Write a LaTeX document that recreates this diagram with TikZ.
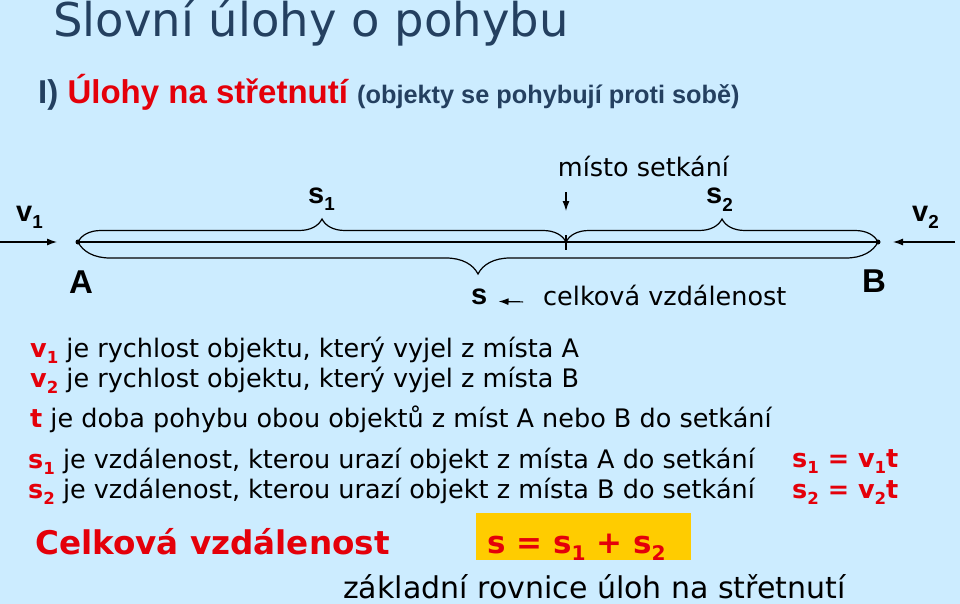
\documentclass[tikz,border=0pt]{standalone}
\usepackage{fontspec}
\setmainfont{DejaVu Sans}
\newfontfamily\arialfont{Liberation Sans}
\usetikzlibrary{arrows.meta,decorations.pathreplacing}

\definecolor{bgblue}{RGB}{204,236,255}
\definecolor{titleblue}{RGB}{36,64,96}
\definecolor{slidered}{RGB}{228,0,10}
\definecolor{boxyellow}{RGB}{255,204,0}

\newcommand{\fsz}[1]{\fontsize{#1pt}{#1pt}\selectfont}
\newcommand{\idx}[1]{\raisebox{-.25em}{\scalebox{.65}{#1}}}
\newcommand{\hl}[1]{\textcolor{slidered}{\bfseries #1}}

\begin{document}
\begin{tikzpicture}[x=1pt,y=-1pt,
    txt/.style={inner sep=0pt, anchor=base west, font=\fsz{25.5}},
    lab/.style={inner sep=0pt, anchor=base west, font=\arialfont\bfseries\fsz{29}},
    arr/.style={-{Latex[length=10pt,width=7pt]}, line width=1.2pt},
    brc/.style={decorate, decoration={brace, amplitude=#1}, line width=1.2pt}]
    \path[use as bounding box, fill=bgblue] (0,0) rectangle (960,604);

    \node[txt, font=\fsz{46.5}, text=titleblue] (title) at (53,37) {Slovní úlohy o pohybu};
    \node[txt, font=\arialfont\bfseries\fsz{33}, text=titleblue] (part) at (38,104)
        {I) \textcolor{slidered}{Úlohy na střetnutí} {\fsz{25.3}(objekty se pohybují proti sobě)}};

    % usecka A--B
    \coordinate (A) at (78,242);
    \coordinate (M) at (566,242);
    \coordinate (B) at (878,242);
    \coordinate (inL) at (0,242);
    \coordinate (inR) at (955,242);
    \coordinate (meetArr) at (566,192);

    \node[txt, anchor=base] (meet) at (643.5,176) {místo setkání};
    \node[lab] (s1) at (308,203) {s\idx{1}};
    \node[lab] (s2) at (706,204) {s\idx{2}};
    \node[lab] (v1) at (16,221) {v\idx{1}};
    \node[lab] (v2) at (912,221) {v\idx{2}};

    \draw[line width=1.8pt] (A) -- (B);
    \fill (A) circle (2.5pt);
    \fill (B) circle (2.5pt);
    \draw[brc=23pt] (A) -- (M);
    \draw[brc=23pt] (M) -- (B);
    \draw[brc=32pt] (B) -- (A);
    \draw[line width=1.2pt] ([yshift=7pt]M) -- ([yshift=-8pt]M);

    \draw[arr, shorten >=21pt] (inL) -- (A);
    \draw[arr, shorten >=15pt] (inR) -- (B);
    \draw[arr, shorten >=31pt] (meetArr) -- (M);

    \node[lab, font=\arialfont\bfseries\fsz{33}, anchor=base] (ptA) at (81,293) {A};
    \node[lab, font=\arialfont\bfseries\fsz{33}, anchor=base] (ptB) at (874,292) {B};
    \node[lab] (sTot) at (471,304) {s};
    \node[txt] (celk) at (543,305) {celková vzdálenost};
    \draw[arr, shorten <=20pt, shorten >=11pt] (celk.mid west) -- (sTot.mid east);

    % vysvetlivky
    \node[txt] (defV1) at (30,357) {\hl{v\idx{1}} je rychlost objektu, který vyjel z místa A};
    \node[txt] (defV2) at (30,387) {\hl{v\idx{2}} je rychlost objektu, který vyjel z místa B};
    \node[txt] (defT) at (30,427) {\hl{t} je doba pohybu obou objektů z míst A nebo B do setkání};
    \node[txt] (defS1) at (28,468) {\hl{s\idx{1}} je vzdálenost, kterou urazí objekt z místa A do setkání};
    \node[txt] (defS2) at (28,498) {\hl{s\idx{2}} je vzdálenost, kterou urazí objekt z místa B do setkání};
    \node[txt] (eqS1) at (792,467) {\hl{s\idx{1} = v\idx{1}t}};
    \node[txt] (eqS2) at (792,498) {\hl{s\idx{2} = v\idx{2}t}};

    \node[fill=boxyellow, inner sep=0pt, minimum width=215pt, minimum height=47pt,
        anchor=north west] (eqBox) at (476,513) {};
    \node[txt, font=\bfseries\fsz{31}, text=slidered] (eqSum) at (487,553) {s = s\idx{1} + s\idx{2}};
    \node[txt, font=\bfseries\fsz{32.6}, text=slidered] (total) at (35,554) {Celková vzdálenost};
    \node[txt, font=\fsz{30}] (basic) at (343,598) {základní rovnice úloh na střetnutí};
\end{tikzpicture}
\end{document}
